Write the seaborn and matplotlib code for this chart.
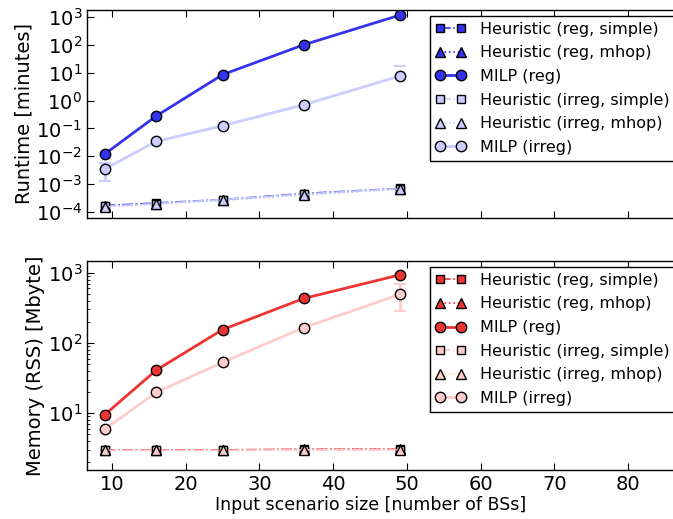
import matplotlib
matplotlib.use("Agg")
import matplotlib.pyplot as plt
import seaborn as sns
import numpy as np

# Scenario sizes (number of base stations)
sizes = [9, 16, 25, 36, 49]

series_labels = [
    "Heuristic (reg, simple)",
    "Heuristic (reg, mhop)",
    "MILP (reg)",
    "Heuristic (irreg, simple)",
    "Heuristic (irreg, mhop)",
    "MILP (irreg)",
]

# Runtime in minutes
rt_heur_reg_simple = [1.7e-4, 2.1e-4, 2.8e-4, 4.6e-4, 7.0e-4]
rt_heur_reg_mhop = [1.6e-4, 2.0e-4, 2.7e-4, 4.3e-4, 6.8e-4]
rt_milp_reg = [0.012, 0.28, 8.5, 100, 1150]
rt_heur_irreg_simple = [1.6e-4, 2.0e-4, 2.8e-4, 4.4e-4, 6.9e-4]
rt_heur_irreg_mhop = [1.5e-4, 1.9e-4, 2.6e-4, 4.1e-4, 6.6e-4]
rt_milp_irreg = [0.0035, 0.034, 0.125, 0.70, 7.5]
rt_milp_irreg_std = [0.0022, 0.0, 0.0, 0.0, 9.5]

# Memory (RSS) in Mbyte
mem_heur_reg_simple = [3.0, 3.0, 3.0, 3.05, 3.05]
mem_heur_reg_mhop = [3.0, 3.0, 3.0, 3.05, 3.05]
mem_milp_reg = [9.5, 41, 155, 430, 930]
mem_heur_irreg_simple = [2.95, 2.95, 2.95, 3.0, 3.0]
mem_heur_irreg_mhop = [2.95, 2.95, 2.95, 3.0, 3.0]
mem_milp_irreg = [5.9, 19.8, 53, 165, 490]
mem_milp_irreg_std = [0.0, 0.0, 0.0, 0.0, 205]

x_ticks = [10, 20, 30, 40, 50, 60, 70, 80]

sns.set_style("ticks")
plt.rcParams.update({
    "font.family": ["DejaVu Sans"],
    "font.size": 12,
    "text.color": "black",
    "axes.labelcolor": "black",
    "xtick.direction": "in",
    "ytick.direction": "in",
    "xtick.top": True,
    "ytick.right": True,
    "axes.linewidth": 1.0,
    "axes.edgecolor": "black",
    "xtick.color": "black",
    "ytick.color": "black",
    "xtick.major.size": 5,
    "ytick.major.size": 5,
    "ytick.minor.size": 2.5,
})

fig = plt.figure(figsize=(6.73, 5.19), dpi=100)
ax_top = fig.add_axes([0.1293, 0.580, 0.8915, 0.4008])
ax_bot = fig.add_axes([0.1293, 0.0944, 0.8915, 0.4027])


def draw_panel(ax, vals, errs, dark, light):
    styles = [
        (vals[0], dark, "s", "-.", 6, 1.2),
        (vals[1], dark, "^", ":", 6.5, 1.2),
        (vals[2], dark, "o", "-", 7.5, 2.0),
        (vals[3], light, "s", "-.", 6, 1.2),
        (vals[4], light, "^", ":", 6.5, 1.2),
        (vals[5], light, "o", "-", 7.5, 2.0),
    ]
    ax.set_yscale("log", nonpositive="mask")
    x = np.array(sizes, dtype=float)
    y = np.array(vals[5], dtype=float)
    e = np.array(errs, dtype=float)
    m = e > 0
    ax.errorbar(x[m], y[m], yerr=e[m], fmt="none", ecolor=light,
                elinewidth=2.0, capsize=4, capthick=1.5, zorder=1)
    for (yv, col, mk, ls, ms, lw), lab in zip(styles, series_labels):
        sns.lineplot(x=sizes, y=yv, ax=ax, color=col, marker=mk,
                     linestyle=ls, linewidth=lw, markersize=ms,
                     markeredgecolor="black", markeredgewidth=1.0,
                     label=lab, zorder=3)
    handles, labels = ax.get_legend_handles_labels()
    leg = ax.legend(handles, labels, loc="upper left", numpoints=2,
                    fancybox=False, framealpha=1, edgecolor="black",
                    fontsize=11.5, handlelength=1.9, borderaxespad=0.0,
                    labelspacing=0.54, handletextpad=0.85,
                    borderpad=0.35, bbox_to_anchor=(0.5717, 0.97))
    leg.get_frame().set_linewidth(1.0)
    ax.set_xlim(6.6, 88)
    ax.set_xticks(x_ticks)
    ax.tick_params(which="both", top=True, right=True, direction="in",
                   labelsize=14)


draw_panel(ax_top,
           [rt_heur_reg_simple, rt_heur_reg_mhop, rt_milp_reg,
            rt_heur_irreg_simple, rt_heur_irreg_mhop, rt_milp_irreg],
           rt_milp_irreg_std, "#3333ee", "#ccccff")
ax_top.set_ylim(10 ** -4.215, 10 ** 3.25)
ax_top.set_yticks([10.0 ** k for k in range(-4, 4)])
ax_top.set_ylabel("Runtime [minutes]", fontsize=14, labelpad=2)
ax_top.set_xlabel("")
ax_top.tick_params(axis="x", labelbottom=False)

draw_panel(ax_bot,
           [mem_heur_reg_simple, mem_heur_reg_mhop, mem_milp_reg,
            mem_heur_irreg_simple, mem_heur_irreg_mhop, mem_milp_irreg],
           mem_milp_irreg_std, "#ee3333", "#ffcccc")
ax_bot.set_ylim(10 ** 0.19, 10 ** 3.167)
ax_bot.set_yticks([10.0, 100.0, 1000.0])
ax_bot.set_ylabel("Memory (RSS) [Mbyte]", fontsize=14, labelpad=2)
ax_bot.set_xlabel("Input scenario size [number of BSs]", fontsize=12.5)
ax_bot.xaxis.set_label_coords(0.473, -0.125)

fig.savefig("out.png", dpi=100)
